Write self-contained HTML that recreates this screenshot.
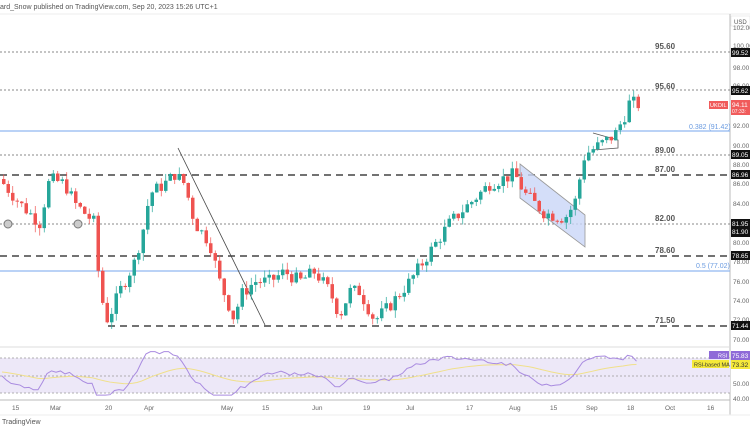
<!DOCTYPE html>
<html><head><meta charset="utf-8"><style>
body{margin:0;width:750px;height:430px;overflow:hidden;background:#fff;font-family:"Liberation Sans",sans-serif}
svg{display:block}
</style></head><body>
<svg id="s" width="750" height="430" xmlns="http://www.w3.org/2000/svg" font-family="Liberation Sans, sans-serif">
<rect width="750" height="430" fill="#fff"/>
<text x="0" y="9" font-size="7" fill="#555">ard_Snow published on TradingView.com, Sep 20, 2023 15:26 UTC+1</text>
<line x1="0" y1="14" x2="750" y2="14" stroke="#eee"/>
<line x1="730" y1="14" x2="730" y2="415" stroke="#bbb"/>
<rect x="731" y="16" width="19" height="10" fill="#fff" stroke="#ddd" stroke-width="0.5"/>
<text x="734" y="24" font-size="6" fill="#555">USD</text>
<g stroke="#888" stroke-dasharray="2,2" stroke-width="1">
<line x1="0" y1="52" x2="730" y2="52"/>
<line x1="0" y1="90" x2="730" y2="90"/>
<line x1="0" y1="155" x2="730" y2="155"/>
<line x1="0" y1="224" x2="730" y2="224"/>
</g>
<g stroke="#444" stroke-dasharray="7,5" stroke-width="1.5">
<line x1="0" y1="175" x2="730" y2="175"/>
<line x1="0" y1="256" x2="730" y2="256"/>
<line x1="108" y1="326" x2="730" y2="326"/>
</g>
<line x1="0" y1="131" x2="730" y2="131" stroke="#90b8f0" stroke-width="1.2"/>
<line x1="0" y1="271" x2="730" y2="271" stroke="#90b8f0" stroke-width="1.2"/>
<g font-size="8" fill="#555" font-weight="bold">
<text x="655" y="49">95.60</text><text x="655" y="89">95.60</text>
<text x="655" y="153">89.00</text><text x="655" y="172">87.00</text>
<text x="655" y="221">82.00</text><text x="655" y="253">78.60</text>
<text x="655" y="323">71.50</text>
</g>
<text x="689" y="129" font-size="7" fill="#6a9be0">0.382 (91.42)</text>
<text x="696" y="268" font-size="7" fill="#6a9be0">0.5 (77.02)</text>
<polygon points="520,164 585,215 585,247 520,198" fill="#c9d6f7" fill-opacity="0.8" stroke="#999" stroke-width="0.8"/>
<polyline points="593,133 618,140 618,148 593,150" fill="none" stroke="#555" stroke-width="0.8"/>
<line x1="178" y1="148" x2="265" y2="325" stroke="#444" stroke-width="0.8"/>
<circle cx="8" cy="224" r="4" fill="#ccc" stroke="#777"/>
<circle cx="78" cy="224" r="4" fill="#ccc" stroke="#777"/>
<g id="c"></g>
<g font-size="6.5" fill="#666">
<text x="733" y="30">102.00</text><text x="733" y="48">100.00</text><text x="733" y="70">98.00</text>
<text x="733" y="88">96.00</text><text x="733" y="128">92.00</text><text x="733" y="148">90.00</text>
<text x="733" y="167">88.00</text><text x="733" y="186">86.00</text><text x="733" y="206">84.00</text>
<text x="733" y="245">80.00</text><text x="733" y="264">78.00</text><text x="733" y="284">76.00</text>
<text x="733" y="303">74.00</text><text x="733" y="322">72.00</text><text x="733" y="342">70.00</text>
<text x="733" y="366">60.00</text><text x="733" y="386">50.00</text><text x="733" y="401">40.00</text>
</g>
<g font-size="6.5" fill="#fff">
<rect x="731" y="48" width="19" height="9" fill="#111"/><text x="732" y="55">99.52</text>
<rect x="731" y="86" width="19" height="9" fill="#111"/><text x="732" y="93">95.62</text>
<rect x="731" y="100" width="19" height="15" fill="#f05b5b"/><text x="732" y="107">94.11</text><text x="732" y="113" font-size="5">07:33:</text>
<rect x="709" y="101" width="19" height="8" fill="#f05b5b"/><text x="710" y="107" font-size="5.5">UKOIL</text>
<rect x="731" y="150" width="19" height="9" fill="#111"/><text x="732" y="157">89.05</text>
<rect x="731" y="170" width="19" height="9" fill="#111"/><text x="732" y="177">86.96</text>
<rect x="731" y="219" width="19" height="18" fill="#111"/><text x="732" y="226">81.95</text><text x="732" y="234">81.90</text>
<rect x="731" y="251" width="19" height="9" fill="#111"/><text x="732" y="258">78.65</text>
<rect x="731" y="321" width="19" height="9" fill="#111"/><text x="732" y="328">71.44</text>
</g>
<line x1="0" y1="347" x2="730" y2="347" stroke="#ddd"/>
<rect x="0" y="358" width="730" height="35" fill="#ede8f8"/>
<g stroke="#999" stroke-dasharray="2,2" stroke-width="0.7">
<line x1="0" y1="358" x2="730" y2="358"/><line x1="0" y1="376" x2="730" y2="376"/><line x1="0" y1="393" x2="730" y2="393"/>
</g>
<polyline id="ma" fill="none" stroke="#f0e08a" stroke-width="1"/>
<polyline id="rsi" fill="none" stroke="#a98be0" stroke-width="1"/>
<rect x="709" y="351" width="20" height="8" fill="#8e6ad8"/><text x="718" y="357.5" font-size="5.5" fill="#fff">RSI</text>
<rect x="731" y="351" width="19" height="9" fill="#8e6ad8"/><text x="732" y="358" font-size="6.5" fill="#fff">75.83</text>
<rect x="692" y="360" width="37" height="8" fill="#f5e93a"/><text x="694" y="366.5" font-size="5.5" fill="#333">RSI-based MA</text>
<rect x="731" y="360" width="19" height="9" fill="#f5e93a"/><text x="732" y="367" font-size="6.5" fill="#333">73.32</text>
<line x1="0" y1="400" x2="730" y2="400" stroke="#bbb"/>
<g font-size="6.5" fill="#666">
<text x="12" y="410">15</text><text x="50" y="410">Mar</text><text x="105" y="410">20</text><text x="144" y="410">Apr</text>
<text x="221" y="410">May</text><text x="262" y="410">15</text><text x="312" y="410">Jun</text><text x="363" y="410">19</text>
<text x="406" y="410">Jul</text><text x="466" y="410">17</text><text x="509" y="410">Aug</text><text x="550" y="410">15</text>
<text x="586" y="410">Sep</text><text x="627" y="410">18</text><text x="665" y="410">Oct</text><text x="707" y="410">16</text>
</g>
<line x1="0" y1="415" x2="750" y2="415" stroke="#eee"/>
<text x="2" y="424" font-size="7" fill="#555">TradingView</text>
</svg>
<script>
var kp=[[0,86.5],[20,84],[40,82],[50,86.5],[65,86],[75,84],[95,82],[100,75],[108,72],[120,75],[135,78],[145,82],[150,85],[165,86],[175,87],[185,86],[195,82],[210,80],[220,76],[235,72],[240,74.5],[255,76],[270,76],[285,77],[300,76],[315,77],[330,75],[340,72.5],[350,75],[360,75],[375,72],[390,73.5],[410,76],[430,79],[450,82],[470,84],[490,86],[515,87],[525,85],[545,83],[565,82.5],[575,84],[585,89],[600,90],[615,91],[625,93],[630,94.4],[640,94.1]];
function P(x){for(var i=1;i<kp.length;i++)if(x<=kp[i][0]){var a=kp[i-1],b=kp[i];return a[1]+(b[1]-a[1])*(x-a[0])/(b[0]-a[0]);}return 94.1;}
function Y(p){return 90+(95.62-p)*9.76;}
var seed=7;function r(){seed=(seed*9301+49297)%233280;return seed/233280;}
var g='',prev=P(0),rs=[],ma=[],rv=55,mv=55;
for(var x=2;x<=638;x+=4.5){var c=P(x+2)+(r()-0.5)*1.4,o=prev;var hi=Math.max(o,c)+r()*0.8,lo=Math.min(o,c)-r()*0.8;
var up=c>=o,col=up?'#26a69a':'#ef5350';
g+='<line x1="'+(x+1.75)+'" x2="'+(x+1.75)+'" y1="'+Y(hi)+'" y2="'+Y(lo)+'" stroke="'+col+'" stroke-width="0.7"/>';
var t=Y(Math.max(o,c)),h=Math.max(1,Y(Math.min(o,c))-t);
g+='<rect x="'+x+'" y="'+t+'" width="3.5" height="'+h+'" fill="'+col+'"/>';
var d=(c-o);rv=rv*0.8+(50+d*14+(P(x+2)-P(x-30))*3)*0.2;rv=Math.max(28,Math.min(78,rv));mv=mv*0.93+rv*0.07;
rs.push(x+','+(376-(rv-50)*0.87));ma.push(x+','+(376-(mv-50)*0.87));prev=c;}
document.getElementById('c').innerHTML=g;
document.getElementById('rsi').setAttribute('points',rs.join(' '));
document.getElementById('ma').setAttribute('points',ma.join(' '));
</script>
</body></html>
